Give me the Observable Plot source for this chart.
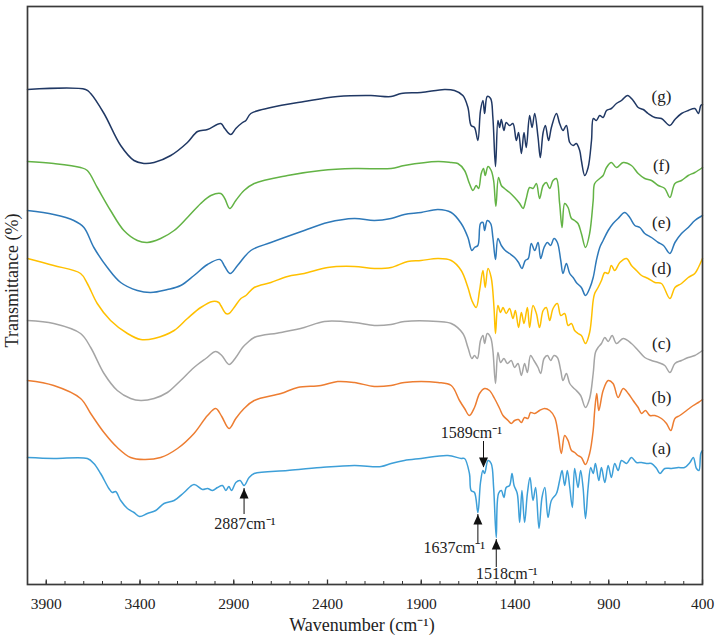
<!DOCTYPE html>
<html><head><meta charset="utf-8">
<script src="https://cdn.jsdelivr.net/npm/d3@7"></script>
<script src="https://cdn.jsdelivr.net/npm/@observablehq/plot@0.6"></script>
<style>html,body{margin:0;padding:0;background:#fff}</style>
</head><body><div id="chart"></div>
<script>
// Spectra: [wavenumber (cm-1), transmittance (offset, arbitrary units)]
const specG = [[4000,495],[3690,495],[3663,491],[3592,471],[3503,439],[3432,424],[3379,421],[3325,422],[3236,429],[3147,442],[3093,453],[3040,455],[2969,461],[2948,456],[2916,450],[2889,456],[2853,462],[2835,464],[2809,471],[2702,477],[2524,483],[2346,488],[2168,489],[2061,488],[2007,491],[1901,492],[1776,495],[1723,494],[1678,489],[1651,477],[1634,459],[1616,457],[1598,444],[1584,474],[1571,484],[1562,471],[1548,488],[1530,486],[1518,467],[1504,418],[1491,464],[1482,457],[1473,465],[1459,454],[1447,462],[1429,459],[1411,461],[1393,444],[1381,452],[1366,431],[1352,452],[1340,437],[1322,469],[1309,457],[1295,471],[1277,447],[1265,427],[1250,452],[1238,459],[1221,444],[1206,457],[1179,471],[1162,461],[1144,454],[1126,459],[1108,442],[1090,439],[1073,441],[1055,434],[1046,424],[1028,409],[1010,417],[992,444],[982,466],[966,464],[948,469],[930,467],[912,474],[886,476],[859,481],[832,484],[800,489],[770,484],[743,477],[716,475],[690,471],[654,467],[619,466],[574,459],[547,465],[512,471],[476,474],[441,476],[422,471],[409,479],[400,480]];
const specF = [[4000,423],[3860,421],[3717,417],[3681,414],[3628,397],[3557,374],[3486,354],[3414,344],[3361,342],[3290,346],[3218,354],[3147,367],[3076,381],[3022,389],[2969,391],[2948,386],[2921,376],[2889,384],[2845,394],[2791,401],[2613,409],[2435,414],[2257,416],[2061,416],[1990,419],[1811,423],[1740,422],[1705,421],[1669,414],[1643,401],[1624,394],[1607,399],[1594,396],[1580,411],[1568,416],[1559,409],[1544,418],[1527,414],[1514,404],[1502,378],[1488,407],[1473,399],[1456,396],[1429,392],[1402,387],[1375,381],[1357,376],[1340,386],[1322,397],[1304,396],[1286,401],[1269,386],[1250,399],[1233,402],[1215,396],[1197,404],[1179,406],[1162,381],[1149,357],[1135,381],[1117,377],[1099,366],[1082,364],[1064,361],[1046,351],[1024,337],[1002,351],[983,384],[975,401],[948,406],[930,409],[912,417],[886,422],[859,417],[823,422],[779,419],[743,411],[708,406],[672,404],[636,399],[601,396],[574,387],[547,401],[512,404],[476,409],[441,412],[400,417]];
const specE = [[4000,374],[3860,370],[3753,364],[3699,357],[3646,337],[3574,317],[3503,302],[3414,294],[3343,292],[3254,295],[3183,299],[3112,309],[3040,320],[2973,325],[2948,318],[2919,311],[2880,319],[2809,334],[2702,342],[2524,354],[2399,362],[2257,366],[2150,364],[2061,366],[1990,370],[1901,372],[1811,375],[1740,372],[1687,361],[1651,347],[1630,334],[1616,337],[1598,339],[1584,361],[1571,362],[1562,354],[1548,364],[1530,361],[1518,347],[1504,325],[1491,346],[1473,339],[1452,334],[1429,331],[1402,327],[1381,322],[1363,316],[1345,324],[1329,326],[1313,341],[1295,334],[1277,342],[1263,326],[1245,337],[1227,342],[1210,339],[1192,346],[1174,342],[1156,324],[1144,311],[1126,321],[1108,311],[1090,307],[1073,302],[1046,297],[1024,289],[1002,296],[983,307],[966,324],[948,337],[930,344],[903,354],[877,361],[850,366],[815,372],[788,367],[761,359],[734,357],[708,351],[672,347],[636,342],[608,339],[574,331],[547,342],[512,351],[476,357],[441,364],[400,369]];
const specD = [[4000,326],[3860,319],[3717,311],[3681,301],[3628,281],[3557,264],[3467,251],[3396,245],[3325,246],[3218,254],[3147,266],[3076,277],[3013,283],[2980,282],[2969,279],[2942,271],[2925,271],[2898,277],[2862,286],[2835,289],[2791,297],[2702,302],[2613,308],[2524,311],[2399,317],[2257,318],[2150,316],[2061,317],[1972,323],[1901,324],[1811,326],[1740,324],[1687,314],[1651,297],[1630,284],[1607,277],[1589,294],[1571,314],[1559,297],[1544,316],[1527,307],[1512,277],[1504,251],[1491,279],[1477,272],[1464,277],[1447,271],[1429,276],[1411,266],[1398,274],[1381,257],[1366,272],[1352,261],[1334,277],[1322,257],[1304,279],[1286,271],[1269,257],[1250,274],[1233,277],[1215,264],[1197,276],[1174,281],[1156,269],[1135,271],[1117,259],[1099,261],[1082,254],[1064,251],[1046,249],[1024,241],[1002,252],[983,284],[975,291],[957,297],[939,304],[921,312],[903,311],[886,319],[868,314],[841,322],[805,326],[779,319],[752,314],[725,309],[690,306],[654,302],[619,301],[574,286],[547,297],[512,301],[476,307],[441,311],[422,317],[400,326]];
const specC = [[4000,264],[3860,261],[3717,251],[3663,237],[3592,211],[3521,194],[3450,186],[3396,184],[3325,186],[3254,192],[3183,204],[3112,217],[3049,226],[2996,233],[2964,229],[2925,220],[2889,227],[2853,237],[2826,242],[2791,247],[2648,252],[2524,257],[2417,263],[2257,262],[2150,259],[2061,260],[1990,263],[1811,263],[1740,261],[1678,251],[1651,237],[1630,226],[1616,229],[1601,226],[1584,244],[1571,249],[1562,241],[1548,251],[1530,247],[1518,234],[1504,201],[1491,232],[1477,222],[1459,226],[1441,221],[1420,224],[1402,217],[1384,221],[1366,209],[1349,221],[1334,212],[1317,229],[1299,224],[1277,217],[1263,211],[1245,226],[1227,229],[1210,224],[1192,229],[1174,227],[1156,214],[1144,204],[1126,211],[1108,201],[1090,197],[1073,194],[1050,189],[1024,177],[1002,186],[983,211],[971,232],[957,237],[939,241],[921,247],[903,243],[882,249],[859,241],[823,246],[779,241],[743,234],[708,227],[672,224],[636,222],[601,219],[574,212],[547,221],[512,224],[476,227],[441,229],[400,234]];
const specB = [[4000,204],[3860,199],[3717,186],[3663,171],[3592,152],[3521,137],[3450,127],[3379,125],[3290,127],[3200,136],[3112,151],[3040,169],[2996,176],[2964,168],[2925,156],[2889,166],[2845,176],[2791,184],[2648,191],[2559,197],[2435,199],[2346,203],[2257,202],[2150,198],[2061,199],[1990,202],[1811,202],[1740,199],[1696,184],[1669,176],[1643,169],[1616,177],[1589,191],[1562,196],[1536,194],[1509,186],[1482,176],[1464,169],[1437,164],[1420,161],[1402,164],[1382,165],[1366,162],[1349,167],[1331,166],[1317,172],[1295,171],[1269,174],[1242,176],[1215,174],[1188,167],[1170,151],[1153,131],[1135,149],[1117,144],[1099,134],[1082,132],[1064,129],[1046,127],[1024,120],[1002,131],[983,154],[975,174],[964,191],[953,174],[930,194],[903,204],[877,201],[850,187],[823,196],[796,191],[770,184],[743,177],[725,171],[704,174],[681,169],[654,169],[619,166],[592,161],[569,154],[547,166],[521,169],[485,174],[449,179],[422,182],[400,185]];
const specA = [[4000,127],[3860,126],[3681,126],[3646,121],[3610,111],[3566,96],[3548,92],[3530,93],[3503,84],[3467,76],[3432,72],[3402,68],[3361,71],[3316,74],[3272,81],[3218,84],[3165,92],[3112,100],[3067,95],[3040,96],[3013,94],[2987,97],[2960,99],[2942,94],[2926,98],[2912,94],[2889,102],[2866,104],[2845,99],[2818,107],[2791,111],[2613,114],[2435,117],[2257,119],[2114,118],[2061,121],[1990,124],[1901,126],[1758,129],[1687,126],[1669,126],[1643,111],[1634,94],[1616,92],[1598,72],[1584,102],[1571,114],[1562,111],[1544,124],[1527,121],[1514,97],[1500,47],[1488,91],[1473,94],[1459,87],[1447,97],[1429,99],[1416,111],[1405,99],[1388,91],[1375,62],[1363,94],[1349,62],[1334,91],[1320,107],[1304,84],[1290,97],[1272,56],[1256,87],[1241,97],[1224,67],[1206,84],[1179,91],[1162,104],[1149,114],[1135,99],[1121,114],[1108,97],[1094,77],[1082,116],[1064,97],[1050,114],[1037,97],[1024,66],[1010,97],[996,117],[983,111],[971,121],[953,104],[939,117],[921,102],[903,119],[886,107],[868,121],[850,114],[832,124],[805,121],[779,127],[752,122],[725,122],[699,121],[672,121],[645,116],[627,111],[601,116],[565,116],[529,117],[496,117],[467,122],[449,127],[432,116],[419,114],[409,131],[400,134]];

const seriesKeys = ["a","b","c","d","e","f","g"];
const seriesColors = ["#3d9fd8","#ed7d31","#a5a5a5","#ffc000","#2e79b9","#63b345","#203864"];
const seriesSpectra = [specA, specB, specC, specD, specE, specF, specG];

// series labels (position in data units)
const labelKeys = ["(g)","(f)","(e)","(d)","(c)","(b)","(a)"];
const labelWn = [619,619,619,619,619,619,619];
const labelT = [488,419,362,316,241,187,136];

// peak annotations
const annText = ["2887cm⁻¹","1589cm⁻¹","1637cm⁻¹","1518cm⁻¹"];
const annWn = [2841,1633,1724,1444];
const annT = [61,152,37,11];
const arrowUpWn = [2845,1598,1500];
const arrowUpTip = [96,70,45];
const arrowUpBase = [70,41,17];
const arrowDownWn = [1568];
const arrowDownTip = [117];
const arrowDownBase = [143];

const majorTicks = [3900,3400,2900,2400,1900,1400,900,400];
const minorTicks = d3.range(3900, 399, -100);

const rows = seriesSpectra.flatMap((s, k) => s.map(([wn, t]) => ({key: seriesKeys[k], wn, t})));
const labels = labelKeys.map((text, i) => ({text, wn: labelWn[i], t: labelT[i]}));
const anns = annText.map((text, i) => ({text, wn: annWn[i], t: annT[i]}));
const upArrows = arrowUpWn.map((wn, i) => ({wn, tip: arrowUpTip[i], base: arrowUpBase[i]}));
const downArrows = arrowDownWn.map((wn, i) => ({wn, tip: arrowDownTip[i], base: arrowDownBase[i]}));

const triUp = {draw(ctx) { ctx.moveTo(0, 0); ctx.lineTo(4.5, 10); ctx.lineTo(-4.5, 10); ctx.closePath(); }};
const triDown = {draw(ctx) { ctx.moveTo(0, 0); ctx.lineTo(4.5, -10); ctx.lineTo(-4.5, -10); ctx.closePath(); }};

const serif = "'Liberation Serif', 'Times New Roman', Times, serif";

const chart = Plot.plot({
  width: 717,
  height: 639,
  marginLeft: 27,
  marginRight: 15,
  marginTop: 6,
  marginBottom: 55,
  style: {fontFamily: serif, background: "#fff", color: "#222"},
  x: {domain: [4000, 400]},
  y: {domain: [0, 578], axis: null},
  color: {domain: seriesKeys, range: seriesColors},
  marks: [
    Plot.line(rows, {x: "wn", y: "t", z: "key", stroke: "key", strokeWidth: 1.5, curve: "catmull-rom"}),
    Plot.ruleX(minorTicks, {x: d => d, y1: 0, y2: 3, stroke: "#333", strokeWidth: 1}),
    Plot.ruleX(majorTicks, {x: d => d, y1: 0, y2: 4.5, stroke: "#333", strokeWidth: 1.3}),
    Plot.axisX({ticks: majorTicks, tickSize: 0, tickPadding: 13, tickFormat: d => String(d), fontSize: 15.5, label: null, fill: "#222"}),
    Plot.frame({stroke: "#3a3a3a", strokeWidth: 1.7}),
    Plot.text(labels, {x: "wn", y: "t", text: "text", fontSize: 17, fill: "#222"}),
    Plot.ruleX(upArrows, {x: "wn", y1: "tip", y2: "base", stroke: "#111", strokeWidth: 1}),
    Plot.ruleX(downArrows, {x: "wn", y1: "tip", y2: "base", stroke: "#111", strokeWidth: 1}),
    Plot.dot(upArrows, {x: "wn", y: "tip", symbol: triUp, fill: "#111"}),
    Plot.dot(downArrows, {x: "wn", y: "tip", symbol: triDown, fill: "#111"}),
    Plot.text(anns, {x: "wn", y: "t", text: "text", fontSize: 16, fill: "#222"}),
    Plot.text(["Wavenumber (cm⁻¹)"], {frameAnchor: "bottom", lineAnchor: "middle", textAnchor: "middle", dy: 41, dx: -3, text: d => d, fontSize: 18, fill: "#222"}),
    Plot.text(["Transmittance (%)"], {frameAnchor: "left", lineAnchor: "middle", textAnchor: "middle", dx: -15, dy: -15, rotate: -90, text: d => d, fontSize: 18, fill: "#222"})
  ]
});
document.getElementById("chart").appendChild(chart);
</script>
</body></html>
